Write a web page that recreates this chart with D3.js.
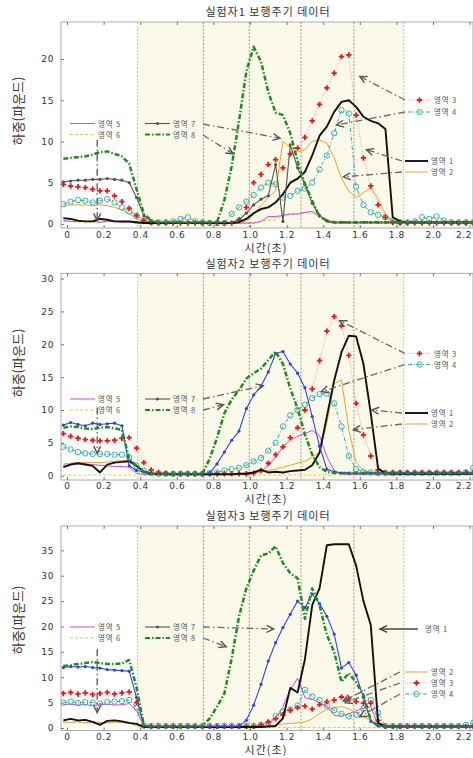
<!DOCTYPE html>
<html>
<head>
<meta charset="utf-8">
<script src="https://cdn.jsdelivr.net/npm/d3@7"></script>
<style>
body { margin: 0; background: #fff; }
svg { display: block; }
text { font-family: "Noto Sans CJK KR", "Noto Sans", sans-serif; fill: #333; }
.tick text { font-family: "DejaVu Sans", sans-serif; font-size: 9px; letter-spacing: 0.6px; fill: #333; }
</style>
</head>
<body>
<svg id="chart" width="473" height="758"></svg>
<script>
// sampling times (s)
const time = [-0.02,0.02,0.06,0.10,0.14,0.18,0.22,0.26,0.30,0.34,0.38,0.42,0.46,0.50,0.54,0.58,0.62,0.66,0.70,0.74,
  0.78,0.82,0.86,0.90,0.94,0.98,1.02,1.06,1.10,1.14,1.18,1.22,1.26,1.30,1.34,1.38,1.42,1.46,1.50,1.54,
  1.58,1.62,1.66,1.70,1.74,1.78,1.82,1.86,1.90,1.94,1.98,2.02,2.06,2.10,2.14,2.18,2.22,2.26];

const regionNames = ['영역 1','영역 2','영역 3','영역 4','영역 5','영역 6','영역 7','영역 8'];
const titles = ['실험자1 보행주기 데이터','실험자2 보행주기 데이터','실험자3 보행주기 데이터'];
const xTicks = [0,0.2,0.4,0.6,0.8,1.0,1.2,1.4,1.6,1.8,2.0,2.2];
const xTickLabels = ['0','0.2','0.4','0.6','0.8','1.0','1.2','1.4','1.6','1.8','2.0','2.2'];
const yTicks1 = [0,5,10,15,20];
const yTicks2 = [0,5,10,15,20,25,30];
const yTicks3 = [0,5,10,15,20,25,30,35];
const phaseLines = [0.386,0.745,0.996,1.279,1.568,1.84];

// subject 1
const p1r1 = [0.7,0.6,0.4,0.3,0.3,0.6,0.5,0.3,0.3,0.3, 0.2,0.1,0.1,0.1,0.1,0.1,0.1,0.1,0.1,0.1,
  0.1,0.1,0.1,0.1,0.2,0.6,1.3,1.8,2.0,2.6, 3.6,5.0,5.5,6.3,8.3,10.7,11.8,13.6,14.8,15.0,
  14.2,13.0,12.5,12.2,11.5,0.8,0.3,0.2,0.2,0.2, 0.2,0.2,0.2,0.2,0.2,0.2,0.2,0.2];
const p1r2 = [2.2,2.3,2.3,2.3,2.2,2.3,2.2,2.0,1.7,1.2, 0.6,0.2,0.1,0.1,0.1,0.1,0.1,0.1,0.1,0.1,
  0.1,0.1,0.1,0.1,0.1,0.3,1.2,2.2,3.2,4.0, 10.0,9.3,8.7,9.0,10.0,10.2,9.8,8.0,5.5,4.0,
  3.2,3.8,4.4,3.0,1.2,0.3,0.1,0.1,0.1,0.1, 0.1,0.1,0.1,0.1,0.1,0.1,0.1,0.1];
const p1r3 = [4.8,4.6,4.5,4.4,4.2,4.0,4.0,3.4,2.7,1.9, 1.0,0.4,0.2,0.1,0.1,0.1,0.1,0.1,0.1,0.1,
  0.1,0.1,0.1,0.1,0.5,2.0,5.0,6.0,7.2,7.8, 6.8,8.5,9.2,10.5,12.5,14.5,16.5,18.3,20.3,20.5,
  13.2,8.0,4.6,2.3,0.8,0.2,0.1,0.1,0.1,0.1, 0.1,0.1,0.1,0.1,0.1,0.1,0.1,0.1];
const p1r4 = [2.4,2.7,2.9,2.8,2.6,2.8,3.0,2.6,2.0,1.5, 1.0,0.4,0.2,0.2,0.2,0.3,0.6,0.8,0.3,0.2,
  0.1,0.1,0.1,1.2,2.0,2.7,3.5,4.4,5.0,4.8, 3.2,3.4,4.0,4.3,5.0,6.6,8.3,11.0,13.8,13.4,
  4.5,2.3,1.4,1.1,0.8,0.4,0.2,0.2,0.3,0.8, 0.6,0.9,0.4,0.2,0.2,0.2,0.2,0.2];
const p1r5 = [0.4,0.3,0.3,0.3,0.3,0.2,0.3,0.3,0.2,0.2, 0.1,0.1,0.1,0.1,0.1,0.1,0.1,0.1,0.1,0.1,
  0.1,0.1,0.1,0.1,0.1,0.1,0.1,0.3,0.9,0.9, 1.0,1.2,1.2,1.4,1.5,1.0,0.2,0.1,0.1,0.1,
  0.1,0.1,0.1,0.1,0.1,0.1,0.1,0.1,0.1,0.1, 0.1,0.1,0.1,0.1,0.1,0.1,0.1,0.1];
const p1r6 = [0.3,0.3,0.2,0.2,0.2,0.2,0.3,0.2,0.2,0.2, 0.1,0.1,0.1,0.1,0.1,0.1,0.1,0.1,0.1,0.1,
  0.1,0.1,0.1,0.1,0.1,0.1,0.1,0.3,0.4,0.5, 1.1,1.2,1.2,1.3,1.3,0.8,0.2,0.1,0.1,0.1,
  0.1,0.1,0.1,0.1,0.1,0.1,0.1,0.1,0.1,0.1, 0.1,0.1,0.1,0.1,0.1,0.1,0.1,0.1];
const p1r7 = [5.1,5.2,5.3,5.3,5.4,5.4,5.5,5.4,5.3,5.0, 3.2,1.0,0.3,0.2,0.2,0.2,0.2,0.2,0.2,0.2,
  0.2,0.2,0.2,0.2,0.5,1.3,2.3,3.0,3.4,7.2, 0.3,9.6,6.8,4.8,2.5,1.0,0.4,0.2,0.2,0.2,
  0.2,0.2,0.2,0.2,0.2,0.2,0.2,0.2,0.2,0.2, 0.2,0.2,0.2,0.2,0.2,0.2,0.2,0.2];
const p1r8 = [7.9,8.0,8.1,8.2,8.4,8.7,8.8,8.5,8.2,7.3, 4.2,1.2,0.4,0.2,0.2,0.2,0.2,0.2,0.2,0.2,
  0.2,0.2,2.9,7.0,12.5,18.5,21.5,19.7,16.0,13.5, 13.2,11.0,7.6,4.8,2.8,0.9,0.4,0.2,0.2,0.2,
  0.2,0.2,0.2,0.2,0.2,0.2,0.2,0.2,0.2,0.2, 0.2,0.2,0.2,0.2,0.2,0.2,0.2,0.2];

// subject 2
const p2r1 = [1.3,1.7,1.9,1.7,1.5,0.5,1.7,2.0,2.1,2.2, 1.5,0.6,0.3,0.2,0.2,0.2,0.2,0.2,0.2,0.2,
  0.2,0.2,0.2,0.2,0.3,0.3,0.5,0.9,0.5,0.6, 0.5,0.7,0.8,0.9,1.6,3.5,9.0,14.5,18.8,21.3,
  21.2,17.0,9.5,1.1,0.4,0.3,0.3,0.3,0.3,0.3, 0.3,0.3,0.3,0.3,0.3,0.3,0.3,0.3];
const p2r2 = [1.8,1.9,2.0,2.0,2.0,2.0,2.1,2.2,2.3,2.3, 1.5,0.6,0.3,0.3,0.3,0.3,0.3,0.3,0.3,0.3,
  0.3,0.3,0.3,0.3,0.3,0.4,0.5,0.6,0.8,1.0, 1.3,1.6,1.9,2.2,2.8,3.6,8.0,14.0,14.6,7.0,
  2.0,0.8,0.5,0.4,0.4,0.4,0.4,0.4,0.4,0.4, 0.4,0.4,0.4,0.4,0.4,0.4,0.4,0.4];
const p2r3 = [6.4,6.0,5.7,5.5,5.4,5.3,5.3,5.4,5.7,5.8, 4.2,2.0,0.9,0.5,0.4,0.3,0.3,0.3,0.3,0.3,
  0.3,0.3,0.3,0.3,0.3,0.3,0.4,0.8,1.9,3.2, 4.4,5.8,7.3,10.0,13.2,17.5,22.0,24.2,22.8,18.3,
  11.0,6.2,3.0,0.9,0.5,0.5,0.5,0.5,0.5,0.5, 0.5,0.5,0.5,0.5,0.5,0.5,0.5,0.5];
const p2r4 = [4.4,4.0,3.6,3.4,3.3,3.3,3.3,3.2,3.2,2.8, 1.5,0.8,0.4,0.3,0.3,0.3,0.3,0.3,0.3,0.3,
  0.4,0.5,0.8,1.0,1.2,1.6,2.2,2.7,3.8,5.0, 7.5,9.2,10.0,10.8,11.8,12.4,12.5,11.0,7.5,3.0,
  1.0,0.6,0.5,0.4,0.4,0.4,0.4,0.4,0.4,0.4, 0.4,0.4,0.4,0.4,0.4,0.5,1.2,1.8];
const p2r5 = [1.6,1.7,1.8,1.8,1.7,1.6,1.5,1.4,1.4,1.3, 0.4,0.2,0.2,0.2,0.2,0.2,0.2,0.2,0.2,0.2,
  0.2,0.2,0.2,0.2,0.2,0.2,0.3,0.7,1.5,2.8, 4.4,5.4,6.0,6.4,6.9,6.1,2.9,0.8,0.3,0.2,
  0.2,0.2,0.2,0.2,0.2,0.2,0.2,0.2,0.2,0.2, 0.2,0.2,0.2,0.2,0.2,0.2,0.2,0.2];
const p2r6 = [0.1,0.1,0.1,0.1,0.1,0.1,0.1,0.1,0.1,0.1, 0.1,0.1,0.1,0.1,0.1,0.1,0.1,0.1,0.1,0.1,
  0.1,0.1,0.1,0.1,0.1,0.1,0.1,0.1,0.1,0.1, 0.1,0.1,0.1,0.1,0.1,0.1,0.1,0.1,0.1,0.1,
  0.1,0.1,0.1,0.1,0.1,0.1,0.1,0.1,0.1,0.1, 0.1,0.1,0.1,0.1,0.1,0.1,0.1,0.1];
const p2r7 = [7.7,8.1,7.8,7.6,8.0,7.8,7.9,8.0,7.6,1.5, 0.8,0.6,0.4,0.3,0.3,0.3,0.3,0.3,0.3,0.3,
  0.4,1.8,3.6,5.4,6.8,10.2,12.3,13.6,15.8,18.6, 18.9,17.0,15.6,13.4,9.0,4.5,1.0,0.6,0.4,0.4,
  0.4,0.4,0.4,0.4,0.4,0.4,0.4,0.4,0.4,0.4, 0.4,0.4,0.4,0.4,0.4,0.4,0.4,0.4];
const p2r8 = [7.3,7.5,7.4,7.2,7.1,7.3,7.4,7.2,7.0,2.5, 1.5,0.6,0.3,0.3,0.3,0.3,0.3,0.3,0.3,0.3,
  2.6,5.8,9.5,11.6,13.0,14.8,15.6,16.3,17.6,18.9, 17.0,13.3,10.2,6.3,3.2,1.3,0.6,0.4,0.4,0.4,
  0.4,0.4,0.4,0.4,0.4,0.4,0.4,0.4,0.4,0.4, 0.4,0.4,0.4,0.4,0.4,0.4,0.4,0.4];

// subject 3
const p3r1 = [1.5,1.8,1.5,1.6,1.2,0.6,1.4,1.5,1.3,1.0, 0.8,0.2,0.2,0.2,0.2,0.2,0.2,0.2,0.2,0.2,
  0.2,0.2,0.2,0.2,0.2,0.2,0.2,0.2,0.3,0.4, 1.9,7.9,7.0,13.5,24.2,27.5,36.0,36.2,36.2,36.2,
  32.0,25.0,20.3,1.0,0.3,0.3,0.3,0.3,0.3,0.3, 0.3,0.3,0.3,0.3,0.3,0.3,0.3,0.3];
const p3r2 = [1.2,1.1,1.3,1.0,1.2,1.1,1.0,1.2,1.1,0.9, 0.5,0.2,0.2,0.2,0.2,0.2,0.2,0.2,0.2,0.2,
  0.2,0.2,0.2,0.2,0.2,0.2,0.2,0.2,0.4,0.6, 0.8,0.9,1.0,1.2,1.8,2.9,3.6,4.0,4.2,3.8,
  3.0,2.2,1.6,0.5,0.2,0.2,0.2,0.2,0.2,0.2, 0.2,0.2,0.2,0.2,0.2,0.2,0.2,0.2];
const p3r3 = [6.8,7.0,6.7,6.9,6.6,6.8,7.0,6.7,6.9,7.1, 5.0,0.4,0.3,0.3,0.3,0.3,0.3,0.3,0.3,0.3,
  0.3,0.3,0.3,0.3,0.3,0.3,0.3,0.6,1.2,1.8, 2.6,3.5,4.0,4.3,3.7,4.6,5.2,5.5,6.1,5.8,
  5.2,4.9,4.9,1.5,0.3,0.3,0.3,0.3,0.3,0.3, 0.3,0.3,0.3,0.3,0.3,0.3,0.3,0.3];
const p3r4 = [5.0,5.2,4.9,5.1,5.0,4.8,5.1,5.2,5.3,5.5, 4.0,0.5,0.4,0.4,0.4,0.4,0.4,0.4,0.4,0.4,
  0.4,0.4,0.4,0.4,0.4,0.4,0.4,0.6,1.0,2.3, 3.2,3.6,4.4,7.5,6.2,5.5,4.4,3.5,2.8,2.3,
  2.6,3.8,5.5,3.0,0.4,0.4,0.4,0.4,0.4,0.4, 0.4,0.4,0.4,0.4,0.4,0.6,1.0,1.2];
const p3r5 = [4.6,4.7,4.5,4.6,4.4,4.6,4.7,4.5,4.6,4.8, 3.5,0.3,0.2,0.2,0.2,0.2,0.2,0.2,0.2,0.2,
  0.2,0.2,0.2,0.2,0.2,0.2,0.2,0.2,0.5,2.0, 4.2,7.5,9.8,6.0,5.6,5.0,4.2,2.5,2.3,2.8,
  3.4,3.9,4.2,0.5,0.2,0.2,0.2,0.2,0.2,0.2, 0.2,0.2,0.2,0.2,0.2,0.2,0.2,0.2];
const p3r6 = [1.0,1.0,1.1,1.0,0.9,1.0,1.0,1.1,1.0,0.9, 0.5,0.1,0.1,0.1,0.1,0.1,0.1,0.1,0.1,0.1,
  0.1,0.1,0.1,0.1,0.1,0.1,0.1,0.1,0.1,0.1, 0.1,0.1,0.1,0.1,0.1,0.1,0.1,0.1,0.1,0.1,
  0.1,0.1,0.1,0.1,0.1,0.1,0.1,0.1,0.1,0.1, 0.1,0.1,0.1,0.1,0.1,0.1,0.1,0.1];
const p3r7 = [11.9,12.1,12.0,12.1,11.9,11.8,11.5,11.4,11.3,11.2, 6.0,0.4,0.3,0.3,0.3,0.3,0.3,0.3,0.3,0.3,
  0.3,0.3,0.3,0.3,0.4,1.5,4.5,8.6,13.2,16.8, 19.8,22.4,25.0,23.7,26.4,24.5,22.0,18.5,11.8,12.9,
  10.4,6.0,1.3,0.4,0.3,0.3,0.3,0.3,0.3,0.3, 0.3,0.3,0.3,0.3,0.3,0.3,0.3,0.3];
const p3r8 = [12.2,12.4,12.6,12.8,13.0,12.8,12.6,12.6,12.7,13.4, 8.0,0.5,0.3,0.3,0.3,0.3,0.3,0.3,0.3,0.3,
  1.9,4.2,6.8,13.7,22.0,27.5,31.0,34.0,34.4,35.8, 32.5,30.5,29.5,21.5,27.5,24.2,18.3,15.0,9.1,10.8,
  9.0,6.5,1.5,0.4,0.3,0.3,0.3,0.3,0.3,0.3, 0.3,0.3,0.3,0.3,0.3,0.3,0.3,0.3];

// series looks (index 0 = 영역 1)
const looks = [
  { stroke: '#111', width: 1.9 },
  { stroke: '#f2a02a', width: 1 },
  { stroke: '#ff7a7a', width: 0.8, dash: '1,1.5', marker: 'cross', mark: '#ee1515' },
  { stroke: '#22a8a0', width: 0.9, dash: '4,2,1,2', marker: 'circle', mark: '#22a8a0' },
  { stroke: '#cc33cc', width: 0.9 },
  { stroke: '#e3c232', width: 0.9, dash: '3,2' },
  { stroke: '#555', width: 1.1, marker: 'dot', mark: '#555' },
  { stroke: '#1e8c1e', width: 2.5, dash: '5,2,1.5,2' }
];
const drawOrder = [5, 4, 1, 3, 2, 0, 6, 7];

const panels = [
  { title: titles[0], top: 22, bottom: 228, yDom: [-0.5, 24.5], yTicks: yTicks1,
    data: [p1r1,p1r2,p1r3,p1r4,p1r5,p1r6,p1r7,p1r8], c7: '#555',
    titleY: 16, tickY: 238, xLabY: 252, yLabY: 111,
    legend: [[4,70,123.5],[5,70,134.5],[6,145,123.5],[7,145,134.5],[2,408,100],[3,408,112],[0,405,161],[1,405,172]],
    arrows: [[203,124,1.164,10.4],[203,135,0.908,8.5],[405,100,1.6,17.9],[405,112,1.473,12],[402,161,1.636,9],[402,172,1.51,5.7]],
    drop: [0.165, 10.2, 0.4] },
  { title: titles[1], top: 273.3, bottom: 480, yDom: [-0.65, 30.8], yTicks: yTicks2,
    data: [p2r1,p2r2,p2r3,p2r4,p2r5,p2r6,p2r7,p2r8], c7: '#3340e0',
    titleY: 268, tickY: 489, xLabY: 503, yLabY: 363,
    legend: [[4,70,399],[5,70,410],[6,145,399],[7,145,410],[2,408,353.5],[3,408,364.5],[0,405,413],[1,405,424]],
    arrows: [[203,399,1.073,13.7],[203,410,0.855,10.8],[405,353.5,1.49,23.6],[405,364.5,1.39,12.8],[402,413,1.665,10],[402,424,1.565,7]],
    drop: [0.165, 10.4, 3.4] },
  { title: titles[2], top: 526, bottom: 730.5, yDom: [-0.5, 39.8], yTicks: yTicks3,
    data: [p3r1,p3r2,p3r3,p3r4,p3r5,p3r6,p3r7,p3r8], c7: '#3340e0',
    titleY: 520, tickY: 740, xLabY: 754, yLabY: 620,
    legend: [[4,70,627],[5,70,638],[6,145,627],[7,145,638],[1,405,672],[2,405,683],[3,405,694]],
    arrows: [[203,627,1.13,19.5],[203,638,0.87,16],[400,672,1.51,5.3],[400,683,1.52,5.0],[400,694,1.6,2.2]],
    solidArrow: [418,629,1.71,19.5], soloLabel: [0,425,629],
    drop: [0.165, 15.5, 3.0] }
];

const svg = d3.select('#chart');
const x = d3.scaleLinear().domain([-0.0328, 2.2186]).range([61, 473]);

function arrowHead(g, x0, y0, x1, y1, color) {
  const a = Math.atan2(y0 - y1, x0 - x1), L = 8, s = 0.45;
  g.append('path')
    .attr('d', `M${x1 + L * Math.cos(a + s)},${y1 + L * Math.sin(a + s)}L${x1},${y1}L${x1 + L * Math.cos(a - s)},${y1 + L * Math.sin(a - s)}`)
    .attr('fill', 'none').attr('stroke', color).attr('stroke-width', 1.4);
}

function drawMarker(g, kind, cx, cy, color) {
  if (kind === 'cross') {
    g.append('path').attr('d', d3.symbol(d3.symbolCross, 16)())
      .attr('transform', `translate(${cx},${cy})`).attr('fill', color);
  } else if (kind === 'circle') {
    g.append('circle').attr('cx', cx).attr('cy', cy).attr('r', 2.7)
      .attr('fill', 'none').attr('stroke', color).attr('stroke-width', 0.9);
  } else if (kind === 'dot') {
    g.append('circle').attr('cx', cx).attr('cy', cy).attr('r', 1.6).attr('fill', color);
  }
}

panels.forEach((p, pi) => {
  const y = d3.scaleLinear().domain(p.yDom).range([p.bottom, p.top]);
  const g = svg.append('g');
  const clipId = 'clip' + pi;
  svg.append('clipPath').attr('id', clipId).append('rect')
    .attr('x', x.range()[0]).attr('y', p.top)
    .attr('width', x.range()[1] - x.range()[0]).attr('height', p.bottom - p.top);

  // shaded gait phases
  g.append('rect')
    .attr('x', x(phaseLines[0])).attr('y', p.top)
    .attr('width', x(phaseLines[phaseLines.length - 1]) - x(phaseLines[0]))
    .attr('height', p.bottom - p.top)
    .attr('fill', '#fbfaea');

  g.selectAll('.phase').data(phaseLines).enter().append('line')
    .attr('x1', d => x(d)).attr('x2', d => x(d))
    .attr('y1', p.top).attr('y2', p.bottom)
    .attr('stroke', (d, i) => (i === 0 || i === phaseLines.length - 1) ? '#999' : '#555')
    .attr('stroke-width', 0.6).attr('stroke-dasharray', '2,1.5');

  // frame
  g.append('rect')
    .attr('x', x.range()[0]).attr('y', p.top)
    .attr('width', x.range()[1] - x.range()[0]).attr('height', p.bottom - p.top)
    .attr('fill', 'none').attr('stroke', '#999').attr('stroke-width', 0.8);

  // axes
  const xa = g.append('g').attr('transform', `translate(0,${p.bottom})`)
    .call(d3.axisBottom(x).tickValues(xTicks).tickSize(-3).tickPadding(0).tickFormat((d, i) => xTickLabels[i]));
  xa.select('.domain').remove();
  xa.selectAll('line').attr('stroke', '#777');
  xa.selectAll('text').attr('y', p.tickY - p.bottom).attr('dy', 0)
    .attr('text-anchor', (d, i) => i === xTicks.length - 1 ? 'end' : 'middle')
    .attr('dx', (d, i) => i === xTicks.length - 1 ? 2 : 0);

  const xt = g.append('g').attr('transform', `translate(0,${p.top})`)
    .call(d3.axisTop(x).tickValues(xTicks).tickSize(-3).tickFormat(''));
  xt.select('.domain').remove();
  xt.selectAll('line').attr('stroke', '#777');

  const ya = g.append('g').attr('transform', `translate(${x.range()[0]},0)`)
    .call(d3.axisLeft(y).tickValues(p.yTicks).tickSize(-3).tickPadding(7));
  ya.select('.domain').remove();
  ya.selectAll('line').attr('stroke', '#777');

  // title and labels
  svg.append('text').attr('x', 268).attr('y', p.titleY).attr('text-anchor', 'middle')
    .style('font-size', '11px').style('letter-spacing', '1px').text(p.title);
  svg.append('text').attr('x', 266).attr('y', p.xLabY).attr('text-anchor', 'middle')
    .style('font-size', '11px').style('letter-spacing', '1px').text('시간(초)');
  svg.append('text').attr('transform', `translate(23,${p.yLabY}) rotate(-90)`)
    .attr('text-anchor', 'middle').style('font-size', '13px').text('하중(파운드)');

  // series
  const plot = g.append('g').attr('clip-path', `url(#${clipId})`);
  const line = d3.line().x(d => x(d[0])).y(d => y(d[1]));
  drawOrder.forEach(k => {
    const lk = looks[k];
    const color = k === 6 ? p.c7 : lk.stroke;
    const pts = time.map((t, i) => [t, p.data[k][i]]);
    plot.append('path').datum(pts)
      .attr('d', line).attr('fill', 'none')
      .attr('stroke', color).attr('stroke-width', lk.width)
      .attr('stroke-dasharray', lk.dash || null)
      .attr('stroke-linejoin', 'round');
    if (lk.marker) {
      const mc = k === 6 ? p.c7 : lk.mark;
      pts.forEach(d => drawMarker(plot, lk.marker, x(d[0]), y(d[1]), mc));
    }
  });

  // legend
  const legText = (lx, ly, k) => g.append('text').attr('x', lx).attr('y', ly + 3)
    .style('font-size', '7.5px').style('letter-spacing', '0.8px').style('fill', '#555')
    .text(regionNames[k]);
  p.legend.forEach(([k, lx, ly]) => {
    const lk = looks[k];
    const len = lx > 300 ? 23 : 25;
    g.append('line').attr('x1', lx).attr('x2', lx + len).attr('y1', ly).attr('y2', ly)
      .attr('stroke', lk.stroke).attr('stroke-width', Math.min(lk.width, 2))
      .attr('stroke-dasharray', lk.dash || null);
    if (lk.marker) drawMarker(g, lk.marker, lx + len / 2, ly, lk.mark);
    legText(lx + len + 3, ly, k);
  });
  if (p.soloLabel) legText(p.soloLabel[1], p.soloLabel[2], p.soloLabel[0]);

  // pointer arrows
  const ann = g.append('g');
  p.arrows.forEach(([fx, fy, tt, tv]) => {
    const tx = x(tt), ty = y(tv);
    ann.append('line').attr('x1', fx).attr('y1', fy).attr('x2', tx).attr('y2', ty)
      .attr('stroke', '#666').attr('stroke-width', 1.3).attr('stroke-dasharray', '7,3,1.5,3');
    arrowHead(ann, fx, fy, tx, ty, '#555');
  });
  if (p.solidArrow) {
    const [fx, fy, tt, tv] = p.solidArrow;
    const tx = x(tt), ty = y(tv);
    ann.append('line').attr('x1', fx).attr('y1', fy).attr('x2', tx).attr('y2', ty)
      .attr('stroke', '#444').attr('stroke-width', 1.4);
    arrowHead(ann, fx, fy, tx, ty, '#444');
  }
  const [dt, dv0, dv1] = p.drop;
  ann.append('line').attr('x1', x(dt)).attr('x2', x(dt)).attr('y1', y(dv0)).attr('y2', y(dv1))
    .attr('stroke', '#555').attr('stroke-width', 1.3).attr('stroke-dasharray', '7,3,1.5,3');
  arrowHead(ann, x(dt), y(dv0), x(dt), y(dv1), '#555');
});
</script>
</body>
</html>
